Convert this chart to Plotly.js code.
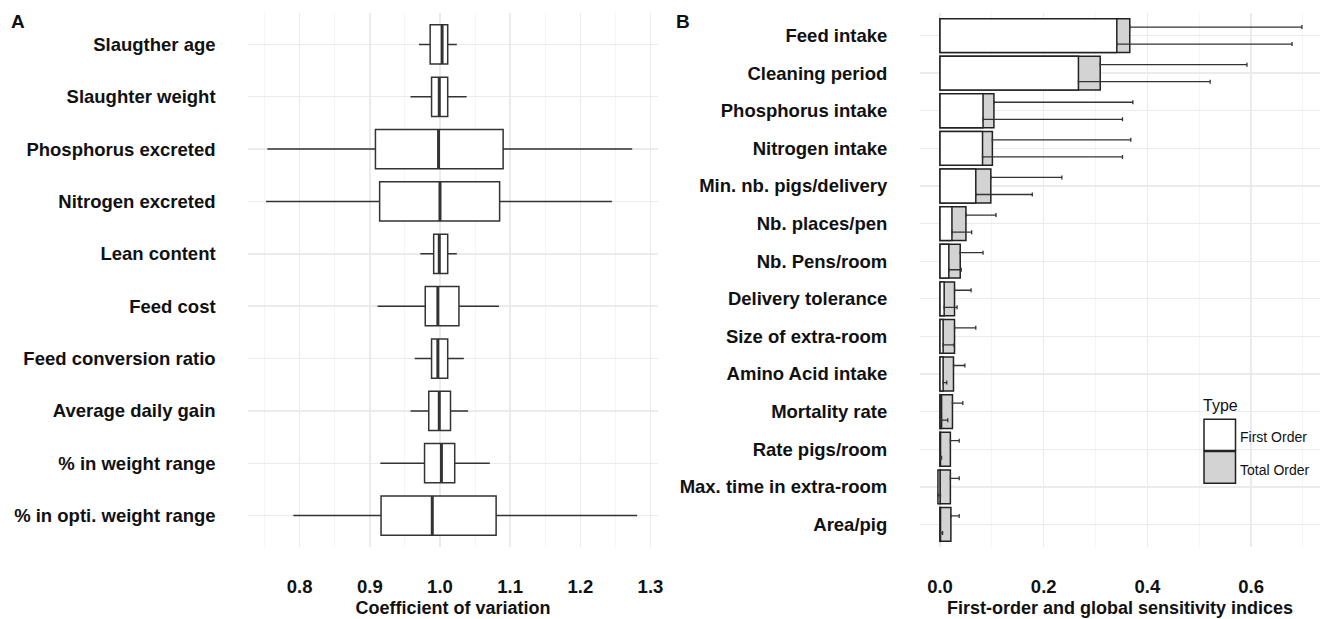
<!DOCTYPE html>
<html>
<head>
<meta charset="utf-8">
<script src="https://cdn.plot.ly/plotly-3.0.1.min.js"></script>
<style>html,body{margin:0;padding:0;background:#fff;}#chart{width:1326px;height:619px;}</style>
</head>
<body>
<div id="chart"></div>
<script>
// ---------- Panel A data (coefficient of variation boxplots) ----------
const varsA = ['Slaugther age','Slaughter weight','Phosphorus excreted','Nitrogen excreted','Lean content','Feed cost','Feed conversion ratio','Average daily gain','% in weight range','% in opti. weight range'];
const lowerA = [0.970,0.958,0.754,0.752,0.972,0.911,0.964,0.958,0.915,0.791];
const q1A    = [0.986,0.988,0.908,0.914,0.991,0.979,0.988,0.984,0.978,0.916];
const medA   = [1.003,0.999,0.998,1.000,0.999,0.997,0.997,0.999,1.002,0.989];
const q3A    = [1.011,1.011,1.090,1.085,1.011,1.027,1.011,1.015,1.021,1.080];
const upperA = [1.024,1.038,1.274,1.245,1.024,1.084,1.034,1.040,1.071,1.281];
const ticksA = [0.8,0.9,1.0,1.1,1.2,1.3];
const tickTextA = ['0.8','0.9','1.0','1.1','1.2','1.3'];

// ---------- Panel B data (Sobol indices) ----------
const varsB = ['Feed intake','Cleaning period','Phosphorus intake','Nitrogen intake','Min. nb. pigs/delivery','Nb. places/pen','Nb. Pens/room','Delivery tolerance','Size of extra-room','Amino Acid intake','Mortality rate','Rate pigs/room','Max. time in extra-room','Area/pig'];
const firstB      = [0.341,0.267,0.083,0.082,0.069,0.023,0.017,0.008,0.006,0.006,0.003,0.001,-0.004,0.001];
const totalB      = [0.366,0.309,0.104,0.101,0.098,0.050,0.039,0.028,0.028,0.026,0.024,0.020,0.020,0.021];
const firstUpperB = [0.679,0.521,0.352,0.352,0.178,0.061,0.041,0.033,0.027,0.013,0.015,0.003,0.001,0.005];
const totalUpperB = [0.698,0.592,0.372,0.368,0.235,0.108,0.083,0.060,0.069,0.048,0.044,0.037,0.037,0.037];
const ticksB = [0,0.2,0.4,0.6];
const tickTextB = ['0.0','0.2','0.4','0.6'];
const legendLabels = ['First Order','Total Order'];

// ---------- helpers ----------
const W = 1326, H = 619;
const px = x => x / W;
const py = y => 1 - y / H;
const FONT = '"Liberation Sans", Arial, sans-serif';
const TXT = '#111111';
const idxA = varsA.map((_, i) => i);
const idxB = varsB.map((_, i) => i);
const zeros = n => new Array(n).fill(0);

// median overlay lines (thicker, as in ggplot)
const medX = [], medY = [];
medA.forEach((m, i) => { medX.push(m, m, null); medY.push(i - 0.375, i + 0.375, null); });

const traces = [
  {
    type: 'box', orientation: 'h', xaxis: 'x', yaxis: 'y',
    y: idxA, q1: q1A, median: medA, q3: q3A, lowerfence: lowerA, upperfence: upperA,
    width: 0.75, whiskerwidth: 0, fillcolor: '#ffffff',
    line: {color: '#333333', width: 1.5}, boxpoints: false, hoverinfo: 'skip', showlegend: false
  },
  {
    type: 'scatter', mode: 'lines', xaxis: 'x', yaxis: 'y', x: medX, y: medY,
    line: {color: '#333333', width: 3}, hoverinfo: 'skip', showlegend: false
  },
  {
    type: 'bar', orientation: 'h', xaxis: 'x2', yaxis: 'y2', name: legendLabels[1],
    x: totalB, y: idxB, width: 0.9, marker: {color: '#d3d3d3', line: {color: '#222222', width: 1.5}},
    hoverinfo: 'skip', showlegend: false
  },
  {
    type: 'bar', orientation: 'h', xaxis: 'x2', yaxis: 'y2', name: legendLabels[0],
    x: firstB, y: idxB, width: 0.9, marker: {color: '#ffffff', line: {color: '#222222', width: 1.5}},
    hoverinfo: 'skip', showlegend: false
  },
  {
    type: 'scatter', mode: 'markers', xaxis: 'x2', yaxis: 'y2',
    x: totalB, y: idxB.map(i => i - 0.227), marker: {size: 1, color: 'rgba(0,0,0,0)'},
    error_x: {type: 'data', symmetric: false, array: totalUpperB.map((u, i) => u - totalB[i]), arrayminus: zeros(varsB.length), color: '#333333', thickness: 1.3, width: 2},
    hoverinfo: 'skip', showlegend: false
  },
  {
    type: 'scatter', mode: 'markers', xaxis: 'x2', yaxis: 'y2',
    x: firstB, y: idxB.map(i => i + 0.227), marker: {size: 1, color: 'rgba(0,0,0,0)'},
    error_x: {type: 'data', symmetric: false, array: firstUpperB.map((u, i) => u - firstB[i]), arrayminus: zeros(varsB.length), color: '#333333', thickness: 1.3, width: 2},
    hoverinfo: 'skip', showlegend: false
  }
];

const tickFont = {family: FONT, size: 18.5, color: TXT, weight: 'bold'};
const baseX = {
  showline: false, zeroline: false, ticks: 'outside', ticklen: 23, tickcolor: 'rgba(0,0,0,0)',
  gridcolor: '#ebebeb', gridwidth: 1.4, tickfont: tickFont
};
const baseY = {
  showline: false, zeroline: false, ticks: 'outside', ticklen: 28, tickcolor: 'rgba(0,0,0,0)',
  gridcolor: '#ebebeb', gridwidth: 1.4, tickfont: tickFont
};
const yDom = [py(547), py(13)];
const titleFont = {family: FONT, size: 18, color: TXT, weight: 'bold'};

const layout = {
  width: W, height: H, margin: {l: 0, r: 0, t: 0, b: 0},
  paper_bgcolor: '#ffffff', plot_bgcolor: '#ffffff',
  barmode: 'overlay', showlegend: false,
  xaxis: Object.assign({}, baseX, {
    domain: [px(248.3), px(657.7)], range: [0.7268, 1.3103],
    tickvals: ticksA, ticktext: tickTextA, minor: {showgrid: true, gridcolor: '#f5f5f5', gridwidth: 1, tickvals: [0.75,0.85,0.95,1.05,1.15,1.25]},
    title: {text: 'Coefficient of variation', font: titleFont, standoff: 5},
    anchor: 'y'
  }),
  yaxis: Object.assign({}, baseY, {
    domain: yDom, range: [varsA.length - 0.4, -0.6], tickvals: idxA, ticktext: varsA, anchor: 'x'
  }),
  xaxis2: Object.assign({}, baseX, {
    domain: [px(920), px(1320)], range: [-0.0386, 0.7329],
    tickvals: ticksB, ticktext: tickTextB, minor: {showgrid: true, gridcolor: '#f5f5f5', gridwidth: 1, tickvals: [0.1,0.3,0.5,0.7]},
    title: {text: 'First-order and global sensitivity indices', font: titleFont, standoff: 5},
    anchor: 'y2'
  }),
  yaxis2: Object.assign({}, baseY, {
    domain: yDom, range: [varsB.length - 0.4, -0.6], tickvals: idxB, ticktext: varsB, anchor: 'x2'
  }),
  shapes: [
    {type: 'rect', xref: 'paper', yref: 'paper', x0: px(1204), x1: px(1235.5), y0: py(450.5), y1: py(419.3), fillcolor: '#ffffff', line: {color: '#222222', width: 1.5}},
    {type: 'rect', xref: 'paper', yref: 'paper', x0: px(1204), x1: px(1235.5), y0: py(483.3), y1: py(451.5), fillcolor: '#d3d3d3', line: {color: '#222222', width: 1.5}}
  ],
  annotations: [
    {text: 'A', xref: 'paper', yref: 'paper', x: px(9), y: py(22), xanchor: 'left', yanchor: 'middle', showarrow: false, font: {family: FONT, size: 19, color: TXT, weight: 'bold'}},
    {text: 'B', xref: 'paper', yref: 'paper', x: px(674), y: py(22), xanchor: 'left', yanchor: 'middle', showarrow: false, font: {family: FONT, size: 19, color: TXT, weight: 'bold'}},
    {text: 'Type', xref: 'paper', yref: 'paper', x: px(1201), y: py(405), xanchor: 'left', yanchor: 'middle', showarrow: false, font: {family: FONT, size: 16, color: TXT}},
    {text: legendLabels[0], xref: 'paper', yref: 'paper', x: px(1238), y: py(437), xanchor: 'left', yanchor: 'middle', showarrow: false, font: {family: FONT, size: 14, color: TXT}},
    {text: legendLabels[1], xref: 'paper', yref: 'paper', x: px(1238), y: py(469.5), xanchor: 'left', yanchor: 'middle', showarrow: false, font: {family: FONT, size: 14, color: TXT}}
  ]
};

Plotly.newPlot('chart', traces, layout, {displayModeBar: false, staticPlot: true});
</script>
</body>
</html>
